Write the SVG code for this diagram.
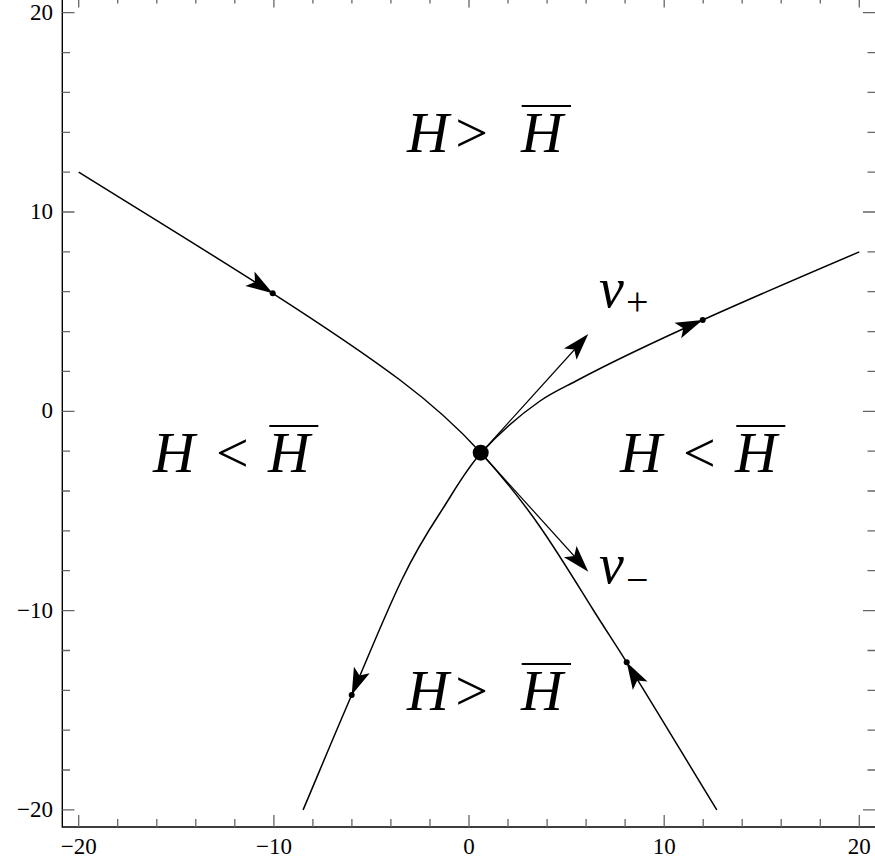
<svg xmlns="http://www.w3.org/2000/svg" width="875" height="862" viewBox="0 0 875 862">
<style>
.frame{fill:none;stroke:#000;stroke-width:1.4}
.tick{stroke:#666;stroke-width:1.3}
.curve{fill:none;stroke:#000;stroke-width:1.5}
.vec{fill:none;stroke:#000;stroke-width:1.2}
.ah{fill:#000}
.ov{stroke:#000;stroke-width:2.2}
</style>
<defs>
<path id="ah" d="M0,0 L-27,-8.5 L-21,0 L-27,8.5 Z"/>
</defs>
<rect width="875" height="862" fill="#fff"/>
<g id="axes">
<path class="frame" d="M62.3,-4.5 V827 H876"/>
<path class="tick" d="M78.7,827V815M117.7,827V819M156.8,827V819M195.8,827V819M234.8,827V819M273.9,827V815M312.9,827V819M351.9,827V819M390.9,827V819M430,827V819M469,827V815M508,827V819M547.1,827V819M586.1,827V819M625.1,827V819M664.2,827V815M703.2,827V819M742.2,827V819M781.2,827V819M820.3,827V819M859.3,827V815"/>
<path class="tick" d="M78.7,-4.5V7.5M117.7,-4.5V3.5M156.8,-4.5V3.5M195.8,-4.5V3.5M234.8,-4.5V3.5M273.9,-4.5V7.5M312.9,-4.5V3.5M351.9,-4.5V3.5M390.9,-4.5V3.5M430,-4.5V3.5M469,-4.5V7.5M508,-4.5V3.5M547.1,-4.5V3.5M586.1,-4.5V3.5M625.1,-4.5V3.5M664.2,-4.5V7.5M703.2,-4.5V3.5M742.2,-4.5V3.5M781.2,-4.5V3.5M820.3,-4.5V3.5M859.3,-4.5V7.5"/>
<path class="tick" d="M62.3,12.7H74.5M62.3,52.6H70M62.3,92.4H70M62.3,132.3H70M62.3,172.1H70M62.3,212H74.5M62.3,251.9H70M62.3,291.7H70M62.3,331.6H70M62.3,371.4H70M62.3,411.3H74.5M62.3,451.2H70M62.3,491H70M62.3,530.9H70M62.3,570.7H70M62.3,610.6H74.5M62.3,650.5H70M62.3,690.3H70M62.3,730.2H70M62.3,770H70M62.3,809.9H74.5"/>
<path class="tick" d="M876,12.7H863M876,52.6H867.5M876,92.4H867.5M876,132.3H867.5M876,172.1H867.5M876,212H863M876,251.9H867.5M876,291.7H867.5M876,331.6H867.5M876,371.4H867.5M876,411.3H863M876,451.2H867.5M876,491H867.5M876,530.9H867.5M876,570.7H867.5M876,610.6H863M876,650.5H867.5M876,690.3H867.5M876,730.2H867.5M876,770H867.5M876,809.9H863"/>
<g font-family="'Liberation Serif', 'Times New Roman', serif" font-size="23" fill="#000" text-anchor="end">
<text x="53" y="19.5" font-family="'Liberation Serif', 'Times New Roman', serif">20</text>
<text x="53" y="219" font-family="'Liberation Serif', 'Times New Roman', serif">10</text>
<text x="53" y="418.3" font-family="'Liberation Serif', 'Times New Roman', serif">0</text>
<text x="53" y="617.6" font-family="'Liberation Serif', 'Times New Roman', serif">−10</text>
<text x="53" y="816.5" font-family="'Liberation Serif', 'Times New Roman', serif">−20</text>
</g>
<g font-family="'Liberation Serif', 'Times New Roman', serif" font-size="23" fill="#000" text-anchor="middle">
<text x="78.7" y="854" font-family="'Liberation Serif', 'Times New Roman', serif">−20</text>
<text x="273.9" y="854" font-family="'Liberation Serif', 'Times New Roman', serif">−10</text>
<text x="469" y="854" font-family="'Liberation Serif', 'Times New Roman', serif">0</text>
<text x="664.2" y="854" font-family="'Liberation Serif', 'Times New Roman', serif">10</text>
<text x="859.3" y="854" font-family="'Liberation Serif', 'Times New Roman', serif">20</text>
</g>
</g>
<g id="connectors">
<path id="stable-upper" class="curve" d="M78.7,172.1 C143.5,212.5 208.7,252.2 272.7,293.3 C315.8,321 359,349.2 400,380 C429,401.8 456.7,426.1 481,453"/>
<path id="unstable-right" class="curve" d="M481,453 C498.6,433.6 518.5,415.9 540,401 C551.2,393.2 563.9,387.4 576,381 C617.3,359 660,339.2 702.7,320 C754.5,296.7 807,274.2 859.3,251.9"/>
<path id="unstable-left" class="curve" d="M481,453 C464.8,470.9 453.3,492.8 440,513 C425.9,534.5 412.8,556.9 401.7,580 C383.7,617.6 368.4,656.5 351.7,695 C335.1,733.3 319.3,771.6 303.1,809.9"/>
<path id="stable-lower" class="curve" d="M481,453 C502.1,476.3 522,500.9 540,526.7 C558.8,553.8 575.8,582 593.3,610 C604.3,627.6 615.7,644.7 626.7,662.3 C657.3,711.3 686.8,760.9 716.8,809.9"/>
<line id="vplus" class="vec" x1="481" y1="453" x2="585" y2="338"/>
<line id="vminus" class="vec" x1="481" y1="453" x2="585" y2="568"/>
<use href="#ah" class="ah" transform="translate(272.7,293.3) rotate(32.5)"/>
<use href="#ah" class="ah" transform="translate(702.7,320) rotate(-23)"/>
<use href="#ah" class="ah" transform="translate(351.7,695) rotate(112)"/>
<use href="#ah" class="ah" transform="translate(626.7,662.3) rotate(-120)"/>
<use href="#ah" class="ah" transform="translate(588.3,334) rotate(-48)"/>
<use href="#ah" class="ah" transform="translate(588.3,571.7) rotate(48)"/>
<circle cx="272.7" cy="293.3" r="3"/>
<circle cx="702.7" cy="320" r="3"/>
<circle cx="351.7" cy="695" r="3"/>
<circle cx="626.7" cy="662.3" r="3"/>
</g>
<g id="saddle">
<circle cx="480.7" cy="452.7" r="8"/>
</g>
<g id="label-top">
<text font-family="'Liberation Serif', 'Times New Roman', serif" font-size="58" y="152"><tspan font-style="italic" x="407">H</tspan><tspan x="471.7" text-anchor="middle">&gt;</tspan><tspan font-style="italic" x="521">H</tspan></text>
<line class="ov" x1="521.7" y1="106" x2="571" y2="106"/>
</g>
<g id="label-left">
<text font-family="'Liberation Serif', 'Times New Roman', serif" font-size="58" y="471.7"><tspan font-style="italic" x="153">H</tspan><tspan x="232.3" text-anchor="middle">&lt;</tspan><tspan font-style="italic" x="268">H</tspan></text>
<line class="ov" x1="269.3" y1="426" x2="318.3" y2="426"/>
</g>
<g id="label-right">
<text font-family="'Liberation Serif', 'Times New Roman', serif" font-size="58" y="471.7"><tspan font-style="italic" x="620">H</tspan><tspan x="699.3" text-anchor="middle">&lt;</tspan><tspan font-style="italic" x="735">H</tspan></text>
<line class="ov" x1="736.3" y1="426" x2="785.3" y2="426"/>
</g>
<g id="label-bottom">
<text font-family="'Liberation Serif', 'Times New Roman', serif" font-size="58" y="710"><tspan font-style="italic" x="407">H</tspan><tspan x="471.7" text-anchor="middle">&gt;</tspan><tspan font-style="italic" x="521">H</tspan></text>
<line class="ov" x1="521.7" y1="664" x2="571" y2="664"/>
</g>
<g id="label-vplus">
<text font-family="'Liberation Serif', 'Times New Roman', serif"><tspan font-style="italic" x="599" y="307" font-size="56">v</tspan><tspan x="626" y="314.5" font-size="40">+</tspan></text>
</g>
<g id="label-vminus">
<text font-family="'Liberation Serif', 'Times New Roman', serif"><tspan font-style="italic" x="599" y="583" font-size="56">v</tspan><tspan x="626" y="593" font-size="40">−</tspan></text>
</g>
</svg>
